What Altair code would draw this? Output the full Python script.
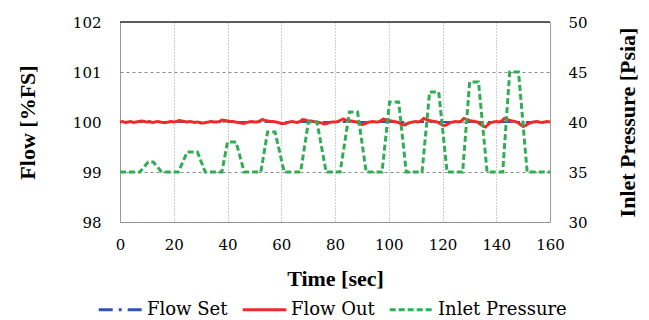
import altair as alt
import pandas as pd

# ---------------- data ----------------
SERIES = ["Flow Set", "Flow Out", "Inlet Pressure"]
COLORS = ["#2f55b4", "#ee2b2b", "#33ad55"]
DASHES = [[14, 6, 3, 6], [1, 0], [6, 3]]

set_time = [0, 160]
set_flow = [100.0, 100.0]

out_time = list(range(0, 161))
out_flow = [
    100.00, 100.01, 99.99, 100.00, 100.01, 99.99, 100.00, 100.01, 100.02, 100.01,
    100.00, 100.01, 99.99, 100.00, 100.01, 100.00, 99.99, 99.99, 100.00, 100.01,
    100.00, 100.01, 100.03, 100.02, 100.01, 100.00, 100.01, 100.00, 99.99, 100.00,
    99.98, 99.98, 99.99, 100.00, 100.01, 100.00, 100.00, 100.01, 100.04, 100.03,
    100.02, 100.01, 100.01, 100.00, 99.99, 99.98, 99.97, 99.99, 100.00, 100.01,
    100.00, 100.00, 100.02, 100.05, 100.03, 100.02, 100.01, 100.01, 100.00, 99.99,
    99.97, 99.97, 99.98, 100.00, 100.01, 100.00, 99.99, 100.01, 100.05, 100.04,
    100.02, 100.02, 100.01, 100.00, 99.99, 99.98, 99.96, 99.97, 99.99, 100.00,
    100.00, 100.01, 100.03, 100.06, 100.04, 100.03, 100.02, 100.01, 100.00, 99.97,
    99.95, 99.96, 99.99, 100.00, 100.01, 100.00, 100.00, 100.02, 100.06, 100.04,
    100.03, 100.02, 100.01, 100.00, 99.98, 99.95, 99.94, 99.97, 99.99, 100.00,
    100.01, 100.00, 100.02, 100.07, 100.05, 100.03, 100.02, 100.01, 100.00, 99.97,
    99.94, 99.93, 99.96, 99.99, 100.00, 100.01, 100.00, 100.02, 100.07, 100.05,
    100.03, 100.02, 100.01, 100.00, 99.96, 99.92, 99.90, 99.95, 99.99, 100.00,
    100.01, 100.00, 100.02, 100.07, 100.05, 100.03, 100.02, 100.01, 99.99, 99.95,
    99.91, 99.93, 99.97, 99.99, 100.00, 100.01, 100.00, 99.99, 100.00, 100.01,
    100.00,
]

p_time = [0, 7.4, 10.5, 12.4, 15.5, 21.7, 25.0, 28.8, 31.7, 37.9, 40.0, 43.2, 46.2,
          52.4, 54.9, 57.7, 61.1, 67.2, 70.1, 73.3, 76.7, 81.9, 85.4, 88.4, 91.6,
          97.5, 100.3, 103.7, 106.5, 112.4, 115.2, 118.6, 121.7, 127.5, 130.1, 133.4,
          136.6, 142.4, 145.0, 148.3, 151.5, 160]
p_val = [35, 35, 36, 36, 35, 35, 37, 37, 35, 35, 38, 38, 35, 35, 39, 39, 35, 35, 40, 40,
         35, 35, 41, 41, 35, 35, 42, 42, 35, 35, 43, 43, 35, 35, 44, 44, 35, 35, 45, 45,
         35, 35]

x_ticks = [0, 20, 40, 60, 80, 100, 120, 140, 160]
left_ticks = [98, 99, 100, 101, 102]
right_ticks = [30, 35, 40, 45, 50]

df_set = pd.DataFrame({"t": set_time, "flow": set_flow, "series": "Flow Set"})
df_out = pd.DataFrame({"t": out_time, "flow": out_flow, "series": "Flow Out"})
df_p = pd.DataFrame({"t": p_time, "pressure": p_val, "series": "Inlet Pressure"})

TITLE_FONT = "Times New Roman"
FONT = "DejaVu Serif"
LABEL_SIZE = 15
TITLE_SIZE = 22

x_enc = alt.X("t:Q", scale=alt.Scale(domain=[0, 160], nice=False),
              axis=alt.Axis(values=x_ticks, title="Time [sec]", grid=True,
                            gridDash=[1, 2], gridColor="#9a9a9a", labelFlush=False,
                            labelFont=FONT, labelFontSize=LABEL_SIZE, labelColor="black",
                            labelPadding=15, titleY=63, titleBaseline="alphabetic"))

legend = alt.Legend(orient="none", legendX=-23, legendY=264,
                    direction="horizontal", columns=3, title=None,
                    symbolType="stroke", symbolSize=1900,
                    symbolStrokeWidth=3, labelFont=FONT,
                    labelFontSize=18, labelColor="black",
                    columnPadding=8, labelOffset=3)

color_enc = alt.Color("series:N", scale=alt.Scale(domain=SERIES, range=COLORS),
                      legend=legend)
dash_enc = alt.StrokeDash("series:N", scale=alt.Scale(domain=SERIES, range=DASHES),
                          legend=legend)

y_left = alt.Y("flow:Q", scale=alt.Scale(domain=[98, 102], nice=False),
               axis=alt.Axis(values=left_ticks, title="Flow [%FS]", grid=True,
                             gridDash=[3, 3], gridColor="#8a8a8a", labelFlush=False,
                             labelFont=FONT, labelFontSize=LABEL_SIZE, labelColor="black",
                             labelPadding=19, titleX=-93, titleY=100, titleAngle=270,
                             titleBaseline="middle", titleAlign="center"))

blue = alt.Chart(df_set).mark_line(strokeWidth=2).encode(
    x=x_enc, y=y_left, color=color_enc, strokeDash=dash_enc)
red = alt.Chart(df_out).mark_line(strokeWidth=3).encode(
    x=x_enc, y=y_left, color=color_enc, strokeDash=dash_enc)
top_line = alt.Chart(df_set).mark_rule(color="#555555", strokeWidth=1.5).encode(
    y=alt.value(0))

left = alt.layer(blue, red, top_line)

green = alt.Chart(df_p).mark_line(strokeWidth=3).encode(
    x=x_enc,
    y=alt.Y("pressure:Q", scale=alt.Scale(domain=[30, 50], nice=False),
            axis=alt.Axis(values=right_ticks, title="Inlet Pressure [Psia]",
                          orient="right", grid=False, labelPadding=18, labelFlush=False,
                          labelFont=FONT, labelFontSize=LABEL_SIZE, labelColor="black",
                          titleX=77, titleY=100, titleAngle=270,
                          titleBaseline="middle", titleAlign="center")),
    color=color_enc, strokeDash=dash_enc)

chart = alt.layer(left, green).resolve_scale(y="independent").properties(
    width=430, height=200,
    padding={"left": 112, "top": 14, "right": 91, "bottom": 96},
    autosize=alt.AutoSizeParams(type="none"),
).configure_axis(
    labelFont=FONT, labelFontSize=LABEL_SIZE, labelColor="black",
    titleFont=TITLE_FONT, titleFontSize=TITLE_SIZE, titleFontWeight="bold", titleColor="black",
    ticks=False, domain=False,
).configure_legend(labelFont=FONT).configure_view(stroke="#9a9a9a", strokeWidth=1)

chart.save("out.html", embed_options={"renderer": "svg", "actions": False})
